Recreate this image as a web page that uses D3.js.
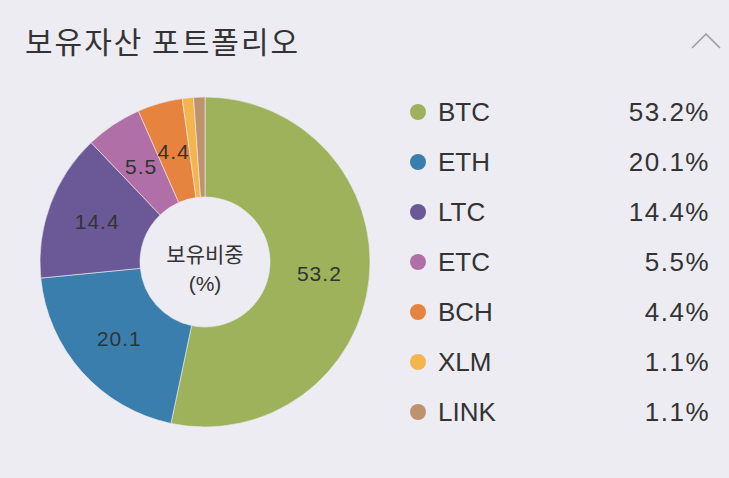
<!DOCTYPE html>
<html>
<head>
<meta charset="utf-8">
<script src="https://cdn.jsdelivr.net/npm/d3@7"></script>
<style>
  html, body { margin: 0; padding: 0; background: #ececf2; }
  svg { display: block; font-family: "Liberation Sans", Arial, "Noto Sans CJK KR", sans-serif; }
</style>
</head>
<body>
<script>
// Paramètres
const width = 729;
const height = 478;

// Données
const coins = ["BTC", "ETH", "LTC", "ETC", "BCH", "XLM", "LINK"];
const shares = [53.2, 20.1, 14.4, 5.5, 4.4, 1.1, 1.1];
const colors = ["#9db25a", "#3a7eae", "#6a5996", "#b06fa7", "#e6833e", "#f4b54e", "#bf926e"];
const title = "보유자산 포트폴리오";
const centerLines = ["보유비중", "(%)"];

const data = coins.map((c, i) => ({ name: c, value: shares[i], color: colors[i] }));

const svg = d3.select("body")
  .append("svg")
  .attr("width", width)
  .attr("height", height);

// Titre
svg.append("text")
   .attr("x", 25)
   .attr("y", 53)
   .attr("fill", "#333")
   .style("font-size", "30px")
   .style("letter-spacing", "2px")
   .style("font-family", "'Noto Sans CJK KR', sans-serif")
   .text(title);

// chevron
svg.append("path")
   .attr("d", "M692,48 L706,34 L720,48")
   .attr("fill", "none")
   .attr("stroke", "#9a9a9e")
   .attr("stroke-width", 1.5);

// Donut
const cx = 205, cy = 262;
const outerR = 165, innerR = 65;

const pie = d3.pie()
  .value(d => d.value)
  .sort(null);

const arc = d3.arc()
  .innerRadius(innerR)
  .outerRadius(outerR);

const labelArc = d3.arc()
  .innerRadius(115)
  .outerRadius(115);

const g = svg.append("g")
  .attr("transform", `translate(${cx},${cy})`);

const arcs = pie(data);

g.selectAll("path")
  .data(arcs)
  .enter()
  .append("path")
  .attr("d", arc)
  .attr("fill", d => d.data.color)
  .attr("stroke", "#ececf2")
  .attr("stroke-width", 0.6);

g.selectAll("text.lbl")
  .data(arcs.filter(d => d.data.value > 3))
  .enter()
  .append("text")
  .attr("class", "lbl")
  .attr("transform", d => `translate(${labelArc.centroid(d)})`)
  .attr("text-anchor", "middle")
  .attr("dy", "0.35em")
  .attr("fill", "#333")
  .style("font-size", "21px")
  .style("letter-spacing", "1px")
  .text(d => d.data.value.toFixed(1));

g.selectAll("text.ctr")
  .data(centerLines)
  .enter()
  .append("text")
  .attr("class", "ctr")
  .attr("text-anchor", "middle")
  .attr("y", (d, i) => 0 + i * 29)
  .attr("fill", "#333")
  .style("font-size", "21px")
  .text(d => d);

// Légende
const y = d3.scaleBand()
  .domain(coins)
  .range([87, 437]);

const legend = svg.append("g")
  .selectAll("g")
  .data(data)
  .enter()
  .append("g")
  .attr("transform", d => `translate(0, ${y(d.name) + y.bandwidth() / 2})`);

legend.append("circle")
  .attr("cx", 418)
  .attr("r", 8)
  .attr("fill", d => d.color);

legend.append("text")
  .attr("x", 438)
  .attr("dy", "0.36em")
  .attr("fill", "#333")
  .style("font-size", "26px")
  .text(d => d.name);

legend.append("text")
  .attr("x", 710)
  .attr("dy", "0.36em")
  .attr("text-anchor", "end")
  .attr("fill", "#333")
  .style("font-size", "26px")
  .style("letter-spacing", "1.5px")
  .text(d => d.value.toFixed(1) + "%");
</script>
</body>
</html>
